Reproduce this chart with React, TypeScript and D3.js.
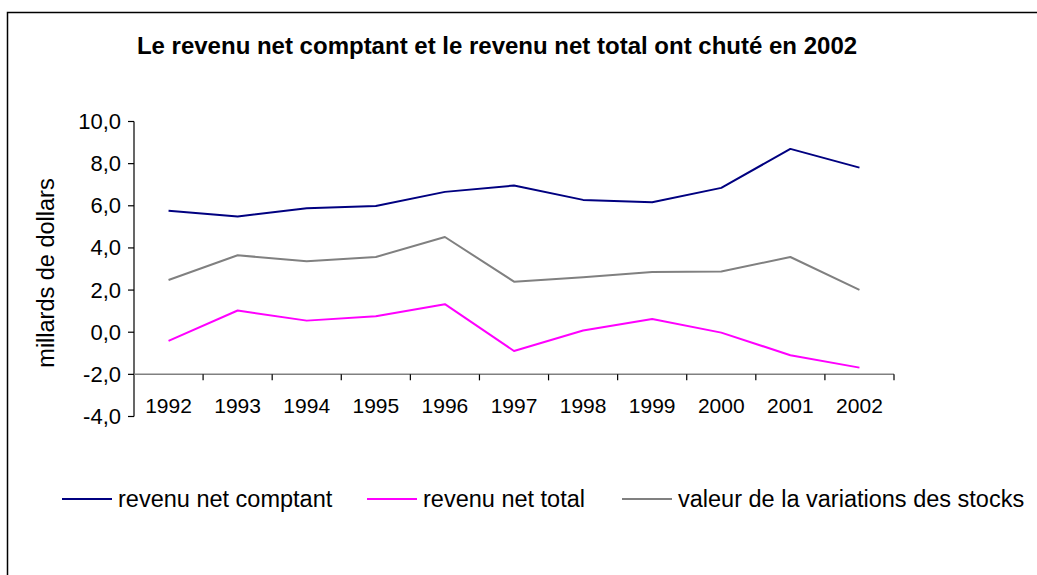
import React from "react";
import * as d3 from "d3";

const years = ["1992","1993","1994","1995","1996","1997","1998","1999","2000","2001","2002"];
const revenuNetComptant = [5.77, 5.49, 5.88, 5.99, 6.66, 6.96, 6.28, 6.17, 6.85, 8.70, 7.81];
const revenuNetTotal = [-0.41, 1.03, 0.55, 0.76, 1.33, -0.89, 0.08, 0.63, -0.02, -1.09, -1.68];
const variationsStocks = [2.48, 3.65, 3.37, 3.57, 4.52, 2.40, 2.61, 2.86, 2.88, 3.57, 2.01];
const yTicks = [-4, -2, 0, 2, 4, 6, 8, 10];

const seriesNames = ["revenu net comptant", "revenu net total", "valeur de la variations des stocks"];
const seriesColors = ["#000080", "#FF00FF", "#808080"];
const seriesData = [revenuNetComptant, revenuNetTotal, variationsStocks];

const W = 1037, H = 575;
const FONT = "'Liberation Sans', Arial, sans-serif";

export default function App() {
  const x = d3.scaleBand<string>().domain(years).range([134, 894]);
  const y = d3.scaleLinear().domain([-4, 10]).range([416.5, 121.5]);
  const line = (vals: number[]) =>
    d3.line<number>().x((_, i) => (x(years[i]) as number) + x.bandwidth() / 2).y(v => y(v))(vals) as string;
  const fmt = (v: number) => v.toFixed(1).replace(".", ",");
  const legendX = [62, 367, 622];

  return (
    <svg width={W} height={H} style={{ position: "absolute", left: 0, top: 0, background: "#fff" }} fontFamily={FONT}>
      <rect x={0} y={0} width={W} height={H} fill="#fff" />
      <path d={`M7.5,${H + 5}V12.5H${W + 5}`} fill="none" stroke="#000" strokeWidth={1.5} />
      <text x={497} y={54} textAnchor="middle" fontWeight="bold" fontSize={24} fill="#000">
        Le revenu net comptant et le revenu net total ont chuté en 2002
      </text>
      {/* y axis */}
      <line x1={134} x2={134} y1={y(10)} y2={y(-4)} stroke="#000" strokeWidth={1.2} />
      {yTicks.map(t => (
        <g key={t}>
          <line x1={128} x2={134} y1={y(t)} y2={y(t)} stroke="#000" strokeWidth={1.2} />
          <text x={121} y={y(t) + 7.5} textAnchor="end" fontSize={22} fill="#000">{fmt(t)}</text>
        </g>
      ))}
      {/* x axis at -2 */}
      <line x1={134} x2={894} y1={y(-2)} y2={y(-2)} stroke="#808080" strokeWidth={1.5} />
      {years.map((yr) => (
        <g key={yr}>
          <line x1={(x(yr) as number) + x.bandwidth()} x2={(x(yr) as number) + x.bandwidth()} y1={y(-2)} y2={y(-2) + 6} stroke="#000" strokeWidth={1.2} />
          <text x={(x(yr) as number) + x.bandwidth() / 2} y={y(-2) + 39} textAnchor="middle" fontSize={21} fill="#000">{yr}</text>
        </g>
      ))}
      <text transform={`translate(46,273) rotate(-90)`} textAnchor="middle" dominantBaseline="central" fontSize={23.5} fill="#000">
        millards de dollars
      </text>
      {seriesData.map((vals, i) => (
        <path key={i} d={line(vals)} fill="none" stroke={seriesColors[i]} strokeWidth={2} strokeLinejoin="round" />
      ))}
      {seriesNames.map((n, i) => (
        <g key={n}>
          <line x1={legendX[i]} x2={legendX[i] + 50} y1={499} y2={499} stroke={seriesColors[i]} strokeWidth={2} />
          <text x={legendX[i] + 56} y={507} fontSize={23.5} fill="#000">{n}</text>
        </g>
      ))}
    </svg>
  );
}
